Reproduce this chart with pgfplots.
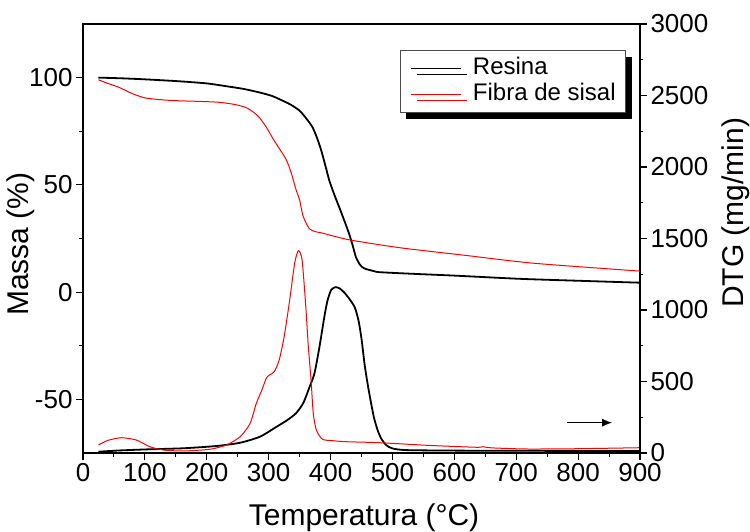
\documentclass[border=0pt]{standalone}
\usepackage{fontspec}
\setmainfont{Liberation Sans}
\usepackage{pgfplots}
\pgfplotsset{compat=1.18}
\usetikzlibrary{arrows.meta,shadows}

\begin{document}
\begin{tikzpicture}
\useasboundingbox (-83bp,-79bp) rectangle (667bp,453bp);
\pgfplotsset{
  every axis/.append style={
    scale only axis, width=557bp, height=429bp, at={(0,0)}, anchor=south west,
    xmin=0, xmax=900,
    tick align=outside,
    major tick length=7bp, minor tick length=3.5bp,
    every tick/.style={black, line width=1.1bp},
    axis line style={line width=1.3bp},
    tick label style={font=\fontsize{26bp}{30bp}\selectfont},
    label style={font=\fontsize{30bp}{35bp}\selectfont, inner sep=0bp},
    /pgf/number format/assume math mode=true,
    /pgf/number format/1000 sep={},
    scaled ticks=false,
  }
}
% DTG (right axis)
\begin{axis}[
  ymin=0, ymax=3000,
  axis x line=none, axis y line*=right,
  ytick={0,500,...,3000}, minor y tick num=1,
  ylabel={DTG (mg/min)},
  ylabel style={at={(axis description cs:1,0.56)}, anchor=north, yshift=-82bp},
]
\addplot[black, line width=1.8bp, smooth, tension=0.4] coordinates {
(25,9) (60,18) (108,26) (162,33) (216,49) (254,72) (286,114) (313,184) (330,230)
(344,277) (356,350) (366,461) (374,557) (382,740) (390,953) (395,1065) (401,1140)
(408,1160) (415,1150) (422,1123) (430,1080) (439,1020) (445,930) (450,800) (455,620)
(460,480) (465,360) (470,250) (476,160) (482,100) (490,55) (500,32) (525,20) (640,16) (900,14)
};
\addplot[red, line width=1bp, smooth, tension=0.4] coordinates {
(25,56) (40,88) (62,107) (86,91) (108,44) (130,21) (162,14) (205,26) (232,56) (254,114)
(270,207) (280,347) (289,440) (296,522) (301,545) (309,568) (317,650) (325,813) (334,1070)
(342,1327) (348,1415) (354,1350) (360,1023) (364,750) (368.5,510) (372,280) (377,161)
(387,96) (404,86) (425,79) (479,72) (560,53) (636,40) (646,44) (660,36) (717,28) (800,30) (900,37)
};
\draw[-{Latex[length=10bp,width=8bp]}, line width=1.3bp] (axis cs:782,212) -- (axis cs:855,212);
\end{axis}
% TG (left axis)
\begin{axis}[
  ymin=-75, ymax=125,
  xtick={0,100,...,900}, minor x tick num=1,
  ytick={-50,0,50,100}, minor y tick num=1,
  xtick pos=bottom, ytick pos=left,
  xlabel={Temperatura (°C)}, ylabel={Massa (\%)},
  xlabel style={at={(axis description cs:0.5045,0)}, anchor=north, yshift=-51bp},
  ylabel style={at={(axis description cs:0,0.487)}, anchor=south, yshift=48bp},
  legend style={at={(rel axis cs:0.975,0.939)}, anchor=north east,
    draw=black!70, line width=0.8bp, fill=white,
    font=\fontsize{24bp}{28bp}\selectfont, inner xsep=10bp, inner ysep=7bp,
    column sep=11bp, row sep=4bp,
    nodes={inner sep=0bp, text height=17bp, text depth=5bp},
    drop shadow={shadow xshift=6bp, shadow yshift=-6bp, fill=black, opacity=1}},
  legend cell align=left,
  legend image code/.code={\draw[#1] (0bp,0bp) -- (50bp,0bp);},
]
\addplot[black, line width=1.8bp, smooth, tension=0.4] coordinates {
(25,100) (60,99.7) (100,99.2) (155,98.3) (200,97.3) (236,95.8) (260,94.7) (285,93.1)
(305,91.5) (317,90) (335,87.5) (350,84.6) (362,80.5) (371,76.8) (378,72) (385,66)
(393,57.5) (398,52) (406,45.5) (414,39.6) (422,33.5) (430,27.2) (436,21.5) (441,16.3)
(447,13) (452,11.5) (458,10.7) (470,9.8) (479,9.3) (528,8.6) (600,7.7) (706,6.2) (800,5.3) (900,4.4)
};
\addlegendentry{Resina}
\addplot[red, line width=1bp, smooth, tension=0.4] coordinates {
(25,99) (40,97.3) (58,95.5) (80,92.5) (101,90.5) (130,89.6) (155,89.2) (190,88.9)
(220,88.5) (245,87.5) (263,86.1) (275,84) (285,81.4) (296,77) (306,72) (317,67) (328,62)
(336,56) (344,48) (350,43) (355,36) (360,32.5) (366,29.5) (375,28.2) (387,27.5) (430,24.4)
(512,20.7) (619,17.1) (727,13.5) (900,9.8)
};
\addlegendentry{Fibra de sisal}
\end{axis}
\end{tikzpicture}
\end{document}
